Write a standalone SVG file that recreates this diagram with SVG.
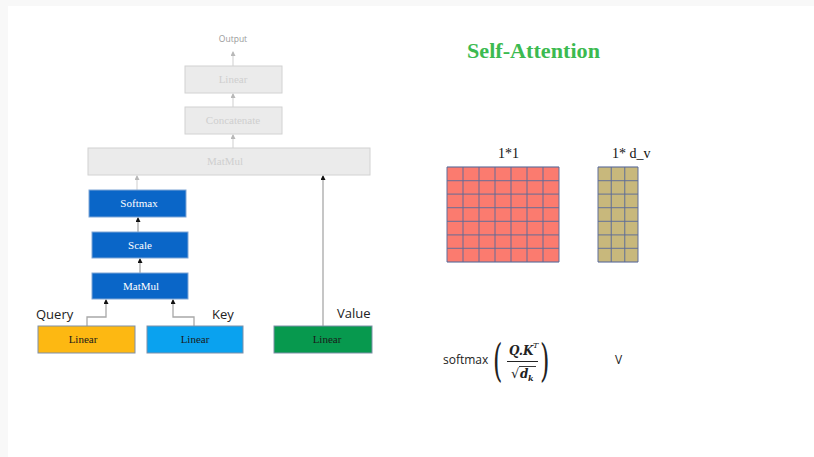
<svg xmlns="http://www.w3.org/2000/svg" width="814" height="457" viewBox="0 0 814 457">
  <style>
    .gbox { fill: #ebebeb; stroke: #d2d2d2; stroke-width: 1; }
    .gtxt { font-family: "Liberation Serif", serif; font-size: 11px; fill: #cfcfcf; text-anchor: middle; }
    .bbox { fill: #0a66c8; stroke: #7fa6d6; stroke-width: 1; }
    .btxt { font-family: "Liberation Serif", serif; font-size: 11px; fill: #ffffff; text-anchor: middle; }
    .ltxt { font-family: "Liberation Serif", serif; font-size: 11px; fill: #1a1a1a; text-anchor: middle; }
    .lbl { font-family: "Open Sans", "Liberation Sans", sans-serif; font-size: 13px; fill: #222; }
    .conn-light { fill: none; stroke: #cfcfcf; stroke-width: 1; }
    .conn { fill: none; stroke: #a8a8a8; stroke-width: 1.3; }
    .gridline { stroke: #5c6c9a; stroke-width: 1.3; stroke-opacity: 0.75; }
  </style>
  <defs>
    <marker id="ahl" markerWidth="5" markerHeight="5" refX="4" refY="2.5" orient="auto" markerUnits="userSpaceOnUse">
      <path d="M0,0 L5,2.5 L0,5 z" fill="#b8b8b8"/>
    </marker>
    <marker id="ahd" markerWidth="5" markerHeight="5" refX="4" refY="2.5" orient="auto" markerUnits="userSpaceOnUse">
      <path d="M0,0 L5,2.5 L0,5 z" fill="#111"/>
    </marker>
  </defs>

  <rect x="0" y="0" width="814" height="457" fill="#f8f8f8"/>
  <rect x="8" y="6" width="806" height="451" fill="#ffffff"/>

  <g id="connectors">
    <line class="conn-light" x1="233" y1="66" x2="233" y2="52" marker-end="url(#ahl)"/>
    <line class="conn-light" x1="233" y1="107" x2="233" y2="94" marker-end="url(#ahl)"/>
    <line class="conn-light" x1="233" y1="148" x2="233" y2="135" marker-end="url(#ahl)"/>
    <line class="conn-light" x1="137" y1="190" x2="137" y2="176" marker-end="url(#ahl)"/>
    <line class="conn" x1="138" y1="232" x2="138" y2="218" marker-end="url(#ahd)"/>
    <line class="conn" x1="140" y1="273" x2="140" y2="259" marker-end="url(#ahd)"/>
    <polyline class="conn" points="87,326 87,317 106,317 106,300" marker-end="url(#ahd)"/>
    <polyline class="conn" points="194,326 194,317 173,317 173,300" marker-end="url(#ahd)"/>
    <line class="conn" x1="323" y1="326" x2="323" y2="176" marker-end="url(#ahd)"/>
  </g>

  <g id="output">
    <text x="233" y="42" font-family="'Open Sans', 'Liberation Sans', sans-serif" font-size="8.5" fill="#9a9a9a" text-anchor="middle">Output</text>
  </g>
  <g id="linear-top">
    <rect class="gbox" x="185" y="66" width="97" height="27"/>
    <text class="gtxt" x="233" y="83">Linear</text>
  </g>
  <g id="concatenate">
    <rect class="gbox" x="185" y="107" width="97" height="27"/>
    <text class="gtxt" x="233" y="124">Concatenate</text>
  </g>
  <g id="matmul-top">
    <rect class="gbox" x="88" y="148" width="282" height="27"/>
    <text class="gtxt" x="225" y="165">MatMul</text>
  </g>
  <g id="softmax">
    <rect class="bbox" x="89" y="190" width="97" height="27"/>
    <text class="btxt" x="139" y="207">Softmax</text>
  </g>
  <g id="scale">
    <rect class="bbox" x="92" y="232" width="96" height="26"/>
    <text class="btxt" x="140" y="249">Scale</text>
  </g>
  <g id="matmul">
    <rect class="bbox" x="92" y="273" width="96" height="26"/>
    <text class="btxt" x="141" y="290">MatMul</text>
  </g>
  <g id="query">
    <text class="lbl" x="36" y="319">Query</text>
    <rect x="38" y="326" width="97" height="27" fill="#fdb812" stroke="#7f8fa8" stroke-width="1"/>
    <text class="ltxt" x="83" y="343">Linear</text>
  </g>
  <g id="key">
    <text class="lbl" x="212" y="319">Key</text>
    <rect x="147" y="326" width="96" height="27" fill="#0aa2ef" stroke="#7f8fa8" stroke-width="1"/>
    <text class="ltxt" x="195" y="343">Linear</text>
  </g>
  <g id="value">
    <text class="lbl" x="337" y="318">Value</text>
    <rect x="274" y="326" width="98" height="27" fill="#07994e" stroke="#7f8fa8" stroke-width="1"/>
    <text class="ltxt" x="327" y="343">Linear</text>
  </g>

  <g id="title">
    <text x="467" y="58" font-family="'Liberation Serif', serif" font-weight="bold" font-size="22" fill="#3cba50" textLength="133" lengthAdjust="spacingAndGlyphs">Self-Attention</text>
  </g>

  <g id="grid-a">
    <text x="498" y="158" font-family="'Liberation Serif', serif" font-size="14" fill="#111">1*1</text>
    <rect x="447" y="167" width="112" height="95" fill="#fb7b6f"/>
    <g class="gridline">
      <line x1="447" y1="167" x2="447" y2="262"/>
      <line x1="463" y1="167" x2="463" y2="262"/>
      <line x1="479" y1="167" x2="479" y2="262"/>
      <line x1="495" y1="167" x2="495" y2="262"/>
      <line x1="511" y1="167" x2="511" y2="262"/>
      <line x1="527" y1="167" x2="527" y2="262"/>
      <line x1="543" y1="167" x2="543" y2="262"/>
      <line x1="559" y1="167" x2="559" y2="262"/>
      <line x1="447" y1="167" x2="559" y2="167"/>
      <line x1="447" y1="180.6" x2="559" y2="180.6"/>
      <line x1="447" y1="194.1" x2="559" y2="194.1"/>
      <line x1="447" y1="207.7" x2="559" y2="207.7"/>
      <line x1="447" y1="221.3" x2="559" y2="221.3"/>
      <line x1="447" y1="234.9" x2="559" y2="234.9"/>
      <line x1="447" y1="248.4" x2="559" y2="248.4"/>
      <line x1="447" y1="262" x2="559" y2="262"/>
    </g>
  </g>

  <g id="grid-v">
    <text x="612" y="158" font-family="'Liberation Serif', serif" font-size="14" fill="#111">1* d_v</text>
    <rect x="598" y="167" width="40" height="95" fill="#c8b87c"/>
    <g class="gridline">
      <line x1="598" y1="167" x2="598" y2="262"/>
      <line x1="611.3" y1="167" x2="611.3" y2="262"/>
      <line x1="624.7" y1="167" x2="624.7" y2="262"/>
      <line x1="638" y1="167" x2="638" y2="262"/>
      <line x1="598" y1="167" x2="638" y2="167"/>
      <line x1="598" y1="180.6" x2="638" y2="180.6"/>
      <line x1="598" y1="194.1" x2="638" y2="194.1"/>
      <line x1="598" y1="207.7" x2="638" y2="207.7"/>
      <line x1="598" y1="221.3" x2="638" y2="221.3"/>
      <line x1="598" y1="234.9" x2="638" y2="234.9"/>
      <line x1="598" y1="248.4" x2="638" y2="248.4"/>
      <line x1="598" y1="262" x2="638" y2="262"/>
    </g>
  </g>

  <g id="formula">
    <text x="443" y="364" font-family="'Open Sans', 'Liberation Sans', sans-serif" font-size="12" fill="#222">softmax</text>
    <text x="493" y="376" font-family="'DejaVu Serif', serif" font-size="44" fill="#222" transform="translate(493 376) scale(0.55 1.0) translate(-493 -376)">(</text>
    <text x="509" y="355" font-family="'DejaVu Serif', serif" font-style="italic" font-weight="bold" font-size="12" fill="#222">Q.K</text>
    <text x="533" y="348" font-family="'DejaVu Serif', serif" font-style="italic" font-size="8" fill="#222">T</text>
    <line x1="507" y1="361.5" x2="538" y2="361.5" stroke="#222" stroke-width="1"/>
    <text x="511" y="378" font-family="'DejaVu Sans', sans-serif" font-size="13" fill="#222">√</text>
    <line x1="519" y1="366.5" x2="536" y2="366.5" stroke="#222" stroke-width="0.9"/>
    <text x="520" y="378" font-family="'DejaVu Serif', serif" font-style="italic" font-weight="bold" font-size="12" fill="#222">d</text>
    <text x="528" y="381" font-family="'DejaVu Serif', serif" font-style="italic" font-weight="bold" font-size="8" fill="#222">k</text>
    <text x="540" y="376" font-family="'DejaVu Serif', serif" font-size="44" fill="#222" transform="translate(540 376) scale(0.55 1.0) translate(-540 -376)">)</text>
    <text x="615" y="364" font-family="'Open Sans', 'Liberation Sans', sans-serif" font-size="12" fill="#222">V</text>
  </g>
</svg>
